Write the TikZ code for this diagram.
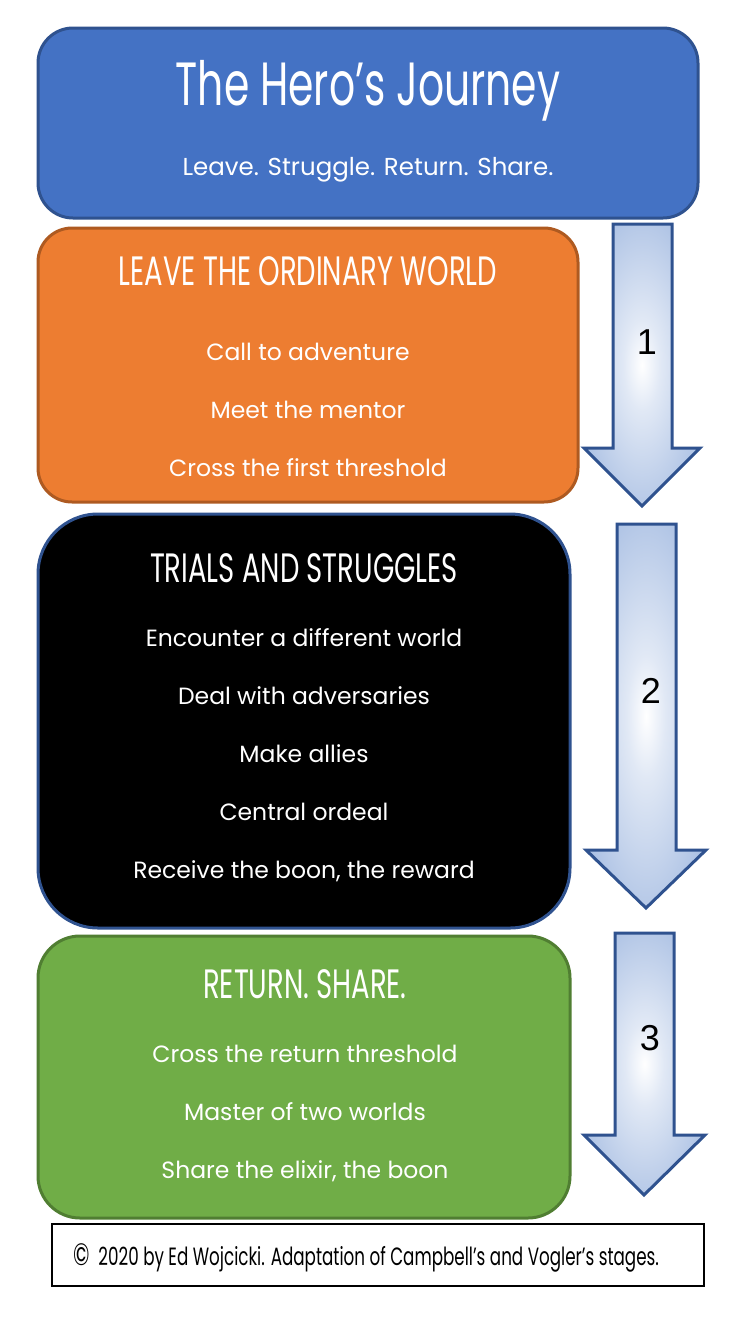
\documentclass[tikz,border=0pt]{standalone}
\usepackage{fontspec}
\setmainfont{Poppins}
\newfontfamily\condfont[FakeStretch=0.67]{Poppins}
\newfontfamily\numfont{Liberation Sans}
\usepackage{xcolor}
\usepackage{tikz}
\usetikzlibrary{calc}
\definecolor{titleblue}{HTML}{4472C4}
\definecolor{edgeblue}{HTML}{2F528F}
\definecolor{leaveorange}{HTML}{ED7D31}
\definecolor{leaveedge}{HTML}{AE5A21}
\definecolor{returngreen}{HTML}{70AD47}
\definecolor{returnedge}{HTML}{507E32}
\definecolor{arrowblue}{HTML}{A9BFE3}
\pgfdeclareradialshading{glow}{\pgfpoint{0bp}{0bp}}{color(0bp)=(white); color(8bp)=(arrowblue!35!white); color(30bp)=(arrowblue); color(50bp)=(arrowblue)}

\begin{document}
\begin{tikzpicture}[x=1pt,y=-1pt,
  stagebox/.style={line width=3pt, inner sep=0pt, outer sep=0pt},
  headtext/.style={text=white, anchor=base, inner sep=0pt, font=\condfont\fontsize{41}{41}\selectfont},
  itemtext/.style={text=white, anchor=base, inner sep=0pt, font=\fontsize{23.5}{23.5}\selectfont},
  arrowbody/.style={draw=edgeblue, line width=3pt, line join=miter, shading=glow},
  numtext/.style={anchor=base, inner sep=0pt, font=\numfont\fontsize{36}{36}\selectfont}]
\useasboundingbox[fill=white] (0,0) rectangle (736,1318);
% title
\node[stagebox, draw=edgeblue, fill=titleblue, rounded corners=35pt, minimum width=660pt, minimum height=190pt] (title) at (368,123) {};
\node[text=white, anchor=base, inner sep=0pt, font=\condfont\fontsize{61}{61}\selectfont] (titletext) at (368,105) {The Hero’s Journey};
\node[itemtext, font=\fontsize{24.5}{24.5}\selectfont] (subtitle) at (368,175) {Leave. Struggle. Return. Share.};
% stage 1
\node[stagebox, draw=leaveedge, fill=leaveorange, rounded corners=34pt, minimum width=540pt, minimum height=274pt] (leave) at (308,365) {};
\node[headtext] (leavehead) at (308,285) {LEAVE THE ORDINARY WORLD};
\foreach \txt [count=\i] in {Call to adventure, Meet the mentor, Cross the first threshold}
  \node[itemtext] (leave\i) at (308,{302+58*\i}) {\txt};
% stage 2
\node[stagebox, draw=edgeblue, fill=black, rounded corners=60pt, minimum width=532pt, minimum height=414pt] (trials) at (304,721) {};
\node[headtext] (trialshead) at (304,582) {TRIALS AND STRUGGLES};
\foreach \txt [count=\i] in {Encounter a different world, Deal with adversaries, Make allies, Central ordeal, {Receive the boon, the reward}}
  \node[itemtext] (trials\i) at (304,{588+58*\i}) {\txt};
% stage 3
\node[stagebox, draw=returnedge, fill=returngreen, rounded corners=42pt, minimum width=532pt, minimum height=282pt] (return) at (304,1077) {};
\node[headtext] (returnhead) at (305,998) {RETURN. SHARE.};
\foreach \txt [count=\i] in {Cross the return threshold, Master of two worlds, {Share the elixir, the boon}}
  \node[itemtext] (return\i) at (305,{1004+58*\i}) {\txt};
% arrows
\path[arrowbody] (613,224) -- (672,224) -- (672,448) -- (700,448) -- (642,506) -- (584,448) -- (613,448) -- cycle;
\path[arrowbody] (617,524) -- (676,524) -- (676,850) -- (706,850) -- (646,908) -- (586,850) -- (617,850) -- cycle;
\path[arrowbody] (615,933) -- (674,933) -- (674,1135) -- (705,1135) -- (644,1195) -- (584,1135) -- (615,1135) -- cycle;
\node[numtext] (num1) at (647,354) {1};
\node[numtext] (num2) at (651,703) {2};
\node[numtext] (num3) at (650,1050) {3};
% footer
\node[draw=black, line width=2pt, minimum width=652pt, minimum height=62pt, inner sep=0pt] (footer) at (378,1255) {};
\node[anchor=base, inner sep=0pt, font=\condfont\fontsize{25}{25}\selectfont] (footertext) at (366,1265) {{\fontsize{31}{31}\selectfont ©}\ \ 2020 by Ed Wojcicki. Adaptation of Campbell’s and Vogler’s stages.};
\end{tikzpicture}
\end{document}
